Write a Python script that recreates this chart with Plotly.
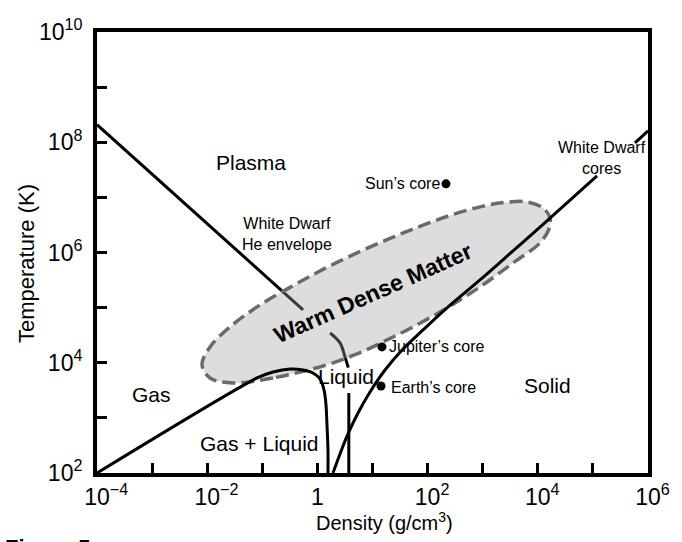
import plotly.graph_objects as go

# ---------------- data (log10 density [g/cm^3], log10 temperature [K]) ----------------
# Plasma / liquid boundary (gaps where text covers it)
plasma_log_rho = [-4.00, -0.26, None, 0.23, 0.41, 0.50, 0.56, None, 0.57, 0.57]
plasma_log_T   = [8.32, 4.96, None, 4.54, 4.36, 4.11, 3.91, None, 3.45, 2.00]

# Gas / liquid coexistence curve
coex_log_rho = [-4.00, -1.096, -0.806, -0.497, -0.261, -0.080, 0.047, 0.120, 0.156, 0.174, 0.192, 0.192]
coex_log_T   = [2.00, 3.724, 3.833, 3.887, 3.869, 3.815, 3.706, 3.506, 3.234, 2.871, 2.417, 2.00]

# Melting curve (solid boundary), gap under the "White Dwarf cores" label
melt_log_rho = [0.283, 0.410, 0.555, 0.737, 0.955, 1.227, 1.554, 1.917, 2.352, 2.951,
                3.550, 4.167, 5.074, None, 5.764, 6.000]
melt_log_T   = [2.000, 2.345, 2.708, 3.089, 3.470, 3.869, 4.250, 4.595, 4.995, 5.503,
                6.029, 6.574, 7.390, None, 7.989, 8.207]

# Warm dense matter region outline
wdm_log_rho = [0.102, -0.806, -1.532, -1.949, -2.094, -1.949, -1.586, -1.096, -0.497, 0.102,
               0.719, 1.318, 1.862, 2.407, 2.951, 3.405, 3.804, 4.094, 4.221, 4.203, 4.040,
               3.550, 2.951, 2.352, 1.735, 1.227, 0.719, 0.102]
wdm_log_T   = [3.942, 3.724, 3.633, 3.724, 3.960, 4.287, 4.650, 5.013, 5.367, 5.693,
               5.993, 6.256, 6.474, 6.673, 6.828, 6.909, 6.918, 6.809, 6.628, 6.428, 6.174,
               5.811, 5.376, 4.995, 4.650, 4.396, 4.160, 3.942]

# Objects
obj_names   = ["Sun’s core", "Jupiter’s core", "Earth’s core"]
obj_log_rho = [2.334, 1.172, 1.154]
obj_log_T   = [7.245, 4.287, 3.579]

# Region labels
region_text    = ["Plasma", "Gas", "Gas + Liquid", "Liquid", "Solid"]
region_log_rho = [-1.205, -3.002, -1.042, 0.519, 4.185]
region_log_T   = [7.626, 3.416, 2.544, 3.742, 3.579]

# Axis ticks
x_tick_exp = list(range(-4, 7))
y_tick_exp = list(range(2, 11))

FONT = "Liberation Sans, Arial, Helvetica, sans-serif"


def lin(vals):
    return [None if v is None else 10 ** v for v in vals]


fig = go.Figure()

# plasma boundary (drawn first so the WDM fill tints it)
fig.add_trace(go.Scatter(x=lin(plasma_log_rho), y=lin(plasma_log_T), mode="lines",
                         line=dict(color="black", width=3, shape="spline"),
                         connectgaps=False, hoverinfo="skip"))

# warm dense matter region
fig.add_trace(go.Scatter(x=lin(wdm_log_rho), y=lin(wdm_log_T), mode="lines",
                         fill="toself", fillcolor="rgba(160,160,160,0.36)",
                         line=dict(color="#6a6a6a", width=3.5, dash="13px,6px", shape="spline"),
                         hoverinfo="skip"))

# coexistence curve
fig.add_trace(go.Scatter(x=lin(coex_log_rho), y=lin(coex_log_T), mode="lines",
                         line=dict(color="black", width=3, shape="spline", smoothing=0.8),
                         hoverinfo="skip"))

# melting curve
fig.add_trace(go.Scatter(x=lin(melt_log_rho), y=lin(melt_log_T), mode="lines",
                         line=dict(color="black", width=3, shape="spline", smoothing=1.0),
                         connectgaps=False, hoverinfo="skip"))

# objects
fig.add_trace(go.Scatter(x=lin(obj_log_rho), y=lin(obj_log_T), mode="markers",
                         marker=dict(color="black", size=9), hoverinfo="skip"))

annotations = []
for t, xr, yr in zip(region_text, region_log_rho, region_log_T):
    annotations.append(dict(x=xr, y=yr, xref="x", yref="y", text=t, showarrow=False,
                            font=dict(family=FONT, size=21, color="black")))

annotations.append(dict(x=-0.552, y=6.337, xref="x", yref="y", text="White Dwarf<br>He envelope",
                        showarrow=False, font=dict(family=FONT, size=16, color="black")))
annotations.append(dict(x=5.165, y=7.717, xref="x", yref="y", text="White Dwarf<br>cores",
                        showarrow=False, font=dict(family=FONT, size=16, color="black")))
annotations.append(dict(x=1.009, y=5.267, xref="x", yref="y", text="<b>Warm Dense Matter</b>",
                        textangle=-24, showarrow=False, font=dict(family=FONT, size=23, color="black")))

# object labels
obj_anchor = ["right", "left", "left"]
obj_xshift = [-4, 5, 8]
obj_yshift = [0, 0, -2]
for n, xr, yr, a, xs, ys in zip(obj_names, obj_log_rho, obj_log_T, obj_anchor, obj_xshift, obj_yshift):
    annotations.append(dict(x=xr, y=yr, xref="x", yref="y", text=n, showarrow=False,
                            xanchor=a, xshift=xs, yshift=ys,
                            font=dict(family=FONT, size=16, color="black")))

# axis titles
annotations.append(dict(x=-0.127, y=0.474, xref="paper", yref="paper", text="Temperature (K)",
                        xanchor="center", yanchor="middle",
                        textangle=-90, showarrow=False, font=dict(family=FONT, size=22, color="black")))
annotations.append(dict(x=0.521, y=-0.111, xref="paper", yref="paper", text="Density (g/cm<sup>3</sup>)",
                        xanchor="center", yanchor="middle",
                        showarrow=False, font=dict(family=FONT, size=20, color="black")))
annotations.append(dict(x=-0.1706, y=-0.137, xref="paper", yref="paper", text="<b>Figure 5</b>",
                        xanchor="left", yanchor="top", showarrow=False,
                        font=dict(family=FONT, size=22, color="black")))


def pow_label(e):
    if e == 0:
        return "1"
    s = str(e).replace("-", "−")
    pad = "<span style='color:rgba(0,0,0,0)'><sup>%s</sup></span>" % s
    return pad + "10<sup>%s</sup>" % s


x_tickvals = [10 ** e for e in x_tick_exp]
x_ticktext = [pow_label(e) if e % 2 == 0 else "" for e in x_tick_exp]
y_tickvals = [10 ** e for e in y_tick_exp]
y_ticktext = [("10<sup>%d</sup>" % e) if e % 2 == 0 else "" for e in y_tick_exp]

axis_common = dict(type="log", showgrid=False, zeroline=False, showline=True, linewidth=4,
                   linecolor="black", mirror=True, ticks="inside", ticklen=10, tickwidth=3,
                   tickcolor="black", automargin=False,
                   tickfont=dict(family=FONT, size=23, color="black"))

fig.update_xaxes(range=[-4, 6], tickvals=x_tickvals, ticktext=x_ticktext, **axis_common)
fig.update_yaxes(range=[2, 10], tickvals=y_tickvals, ticktext=y_ticktext,
                 ticklabelstandoff=6, **axis_common)

fig.update_layout(width=682, height=542, margin=dict(l=97, r=34, t=32, b=69),
                  paper_bgcolor="white", plot_bgcolor="white", showlegend=False,
                  annotations=annotations, hovermode=False,
                  font=dict(family=FONT, color="black"))

fig.write_html("out.html")
